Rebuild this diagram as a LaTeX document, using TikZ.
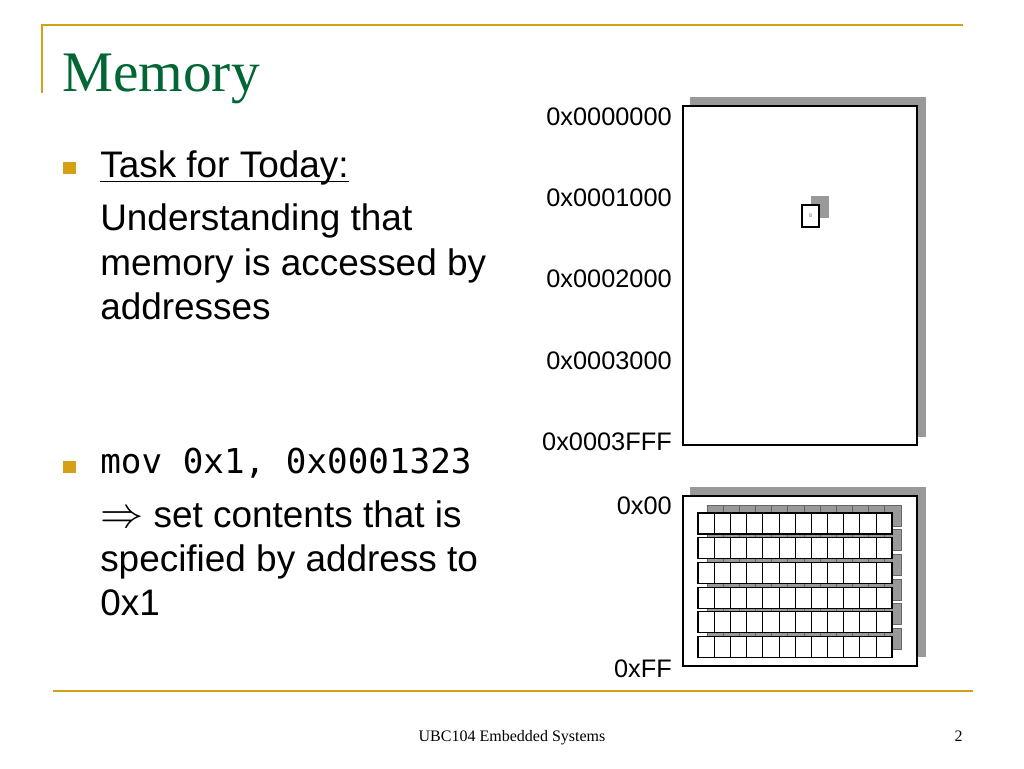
\documentclass[tikz,border=0pt]{standalone}
\usepackage{fontspec}
\setmainfont{Liberation Serif}
\setsansfont{Liberation Sans}
\setmonofont{DejaVu Sans Mono}
\definecolor{slidegold}{RGB}{212,160,23}
\definecolor{titlegreen}{RGB}{0,102,51}
\definecolor{shadowgray}{RGB}{153,153,153}
\tikzset{
  txt/.style={inner sep=0pt, anchor=base west, font=\sffamily\fontsize{27.7}{32}\selectfont},
  addr/.style={inner sep=0pt, anchor=base east, font=\sffamily\fontsize{19}{22}\selectfont},
  goldline/.style={draw=slidegold, line width=2.2pt},
  shade/.style={fill=shadowgray},
  membox/.style={draw=black, fill=white, line width=0.8pt},
  cell/.style={draw=black, fill=white, line width=0.5pt},
  shcell/.style={draw=black!60, fill=shadowgray, line width=0.6pt},
}
\begin{document}
\begin{tikzpicture}[x=0.75pt,y=-0.75pt]
    \useasboundingbox (0,0) rectangle (1024,768);
    % frame
    \draw[goldline] (42,93) -- (42,25) -- (963,25);
    \draw[goldline] (53,691) -- (973,691);
    \node[inner sep=0pt, anchor=base west, text=titlegreen, font=\rmfamily\fontsize{43}{48}\selectfont] (title) at (62,91) {Memory};

    % left text
    \fill[slidegold] (63,162) rectangle (76,174);
    \node[txt] (task) at (100,177) {Task for Today:};
    \draw[line width=1.4pt] ([yshift=-3.4pt]task.base west) -- ([yshift=-3.4pt]task.base east);
    \node[txt] (und1) at (100,230) {Understanding that};
    \node[txt] (und2) at (100,275) {memory is accessed by};
    \node[txt] (und3) at (100,319) {addresses};

    \fill[slidegold] (63,461) rectangle (76,473);
    \node[txt, font=\ttfamily\fontsize{25.7}{30}\selectfont] (mov) at (100,473) {mov 0x1, 0x0001323};
    \node[txt] (set1) at (100,527) {\scalebox{1.3}{$\Rightarrow$} set contents that is};
    \node[txt] (set2) at (100,571) {specified by address to};
    \node[txt] (set3) at (100,615) {0x1};

    % memory block
    \fill[shade] (690,97) rectangle (926,437);
    \draw[membox] (683,106) rectangle (917,445);
    \fill[shade] (811,196) rectangle (829,218);
    \draw[membox, line width=1pt] (802,205) rectangle (819,227);
    \node[inner sep=0pt, text=black!60, font=\sffamily\fontsize{4}{4}\selectfont] (val) at (810.5,216) {8};
    \node[addr] (a0) at (672,125) {0x0000000};
    \node[addr] (a1) at (672,206) {0x0001000};
    \node[addr] (a2) at (672,287) {0x0002000};
    \node[addr] (a3) at (672,369) {0x0003000};
    \node[addr] (a4) at (672,450) {0x0003FFF};

    % byte block
    \fill[shade] (690,487) rectangle (926,657);
    \draw[membox] (683,496) rectangle (917,666);
    \foreach \r in {0,...,5}{
        \foreach \c in {0,...,11}{
            \draw[shcell] ({707+16.17*\c},{505+24.7*\r}) rectangle ++(16.17,21);
        }
    }
    \foreach \r in {0,...,5}{
        \foreach \c in {0,...,11}{
            \draw[cell] ({698+16.17*\c},{513+24.7*\r}) rectangle ++(16.17,21);
        }
        \draw[line width=0.9pt] (698,{513+24.7*\r}) rectangle ++(194,21);
    }
    \node[addr] (b0) at (672,514) {0x00};
    \node[addr] (b1) at (672,677) {0xFF};

    % footer
    \node[inner sep=0pt, anchor=base, font=\rmfamily\fontsize{12}{14}\selectfont] (foot) at (512,741) {UBC104 Embedded Systems};
    \node[inner sep=0pt, anchor=base east, font=\rmfamily\fontsize{12}{14}\selectfont] (page) at (963,741) {2};
\end{tikzpicture}
\end{document}
